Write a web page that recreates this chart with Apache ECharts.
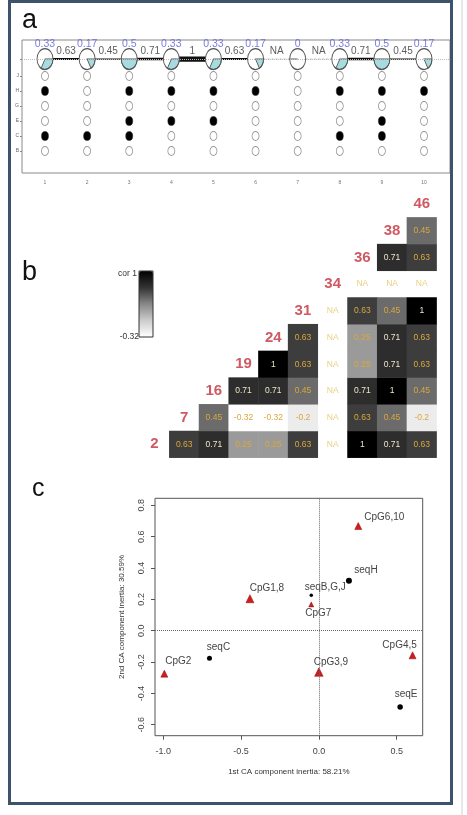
<!DOCTYPE html>
<html>
<head>
<meta charset="utf-8">
<script src="https://cdn.jsdelivr.net/npm/echarts@6/dist/echarts.min.js"></script>
<style>
  html, body { margin: 0; padding: 0; background: #fff; }
  #chart { width: 467px; height: 815px; }
</style>
</head>
<body>
<div id="chart"></div>
<script>
// ---- panel a: methylation of 10 CpG sites in 6 sequences ----
const cpgSites = [1, 2, 3, 4, 5, 6, 7, 8, 9, 10];
const seqRows = ['B', 'C', 'E', 'G', 'H', 'J'];
const seqB = [0, 0, 0, 0, 0, 0, 0, 0, 0, 0];
const seqC = [1, 1, 1, 0, 0, 0, 0, 1, 1, 0];
const seqE = [0, 0, 1, 1, 1, 0, 0, 0, 1, 0];
const seqG = [0, 0, 0, 0, 0, 0, 0, 0, 0, 0];
const seqH = [1, 0, 1, 1, 1, 1, 0, 1, 1, 1];
const seqJ = [0, 0, 0, 0, 0, 0, 0, 0, 0, 0];
const methFraction = [0.33, 0.17, 0.5, 0.33, 0.33, 0.17, 0, 0.33, 0.5, 0.17];
const neighbourCor = [0.63, 0.45, 0.71, 1, 0.63, null, null, 0.71, 0.45];

// ---- panel b: correlation between CpG positions (upper triangle, null = NA) ----
const cpgPos = ['2', '7', '16', '19', '24', '31', '34', '36', '38', '46'];
const cor2 = [0.63, 0.71, 0.25, 0.25, 0.63, null, 1, 0.71, 0.63];
const cor7 = [0.45, -0.32, -0.32, -0.2, null, 0.63, 0.45, -0.2];
const cor16 = [0.71, 0.71, 0.45, null, 0.71, 1, 0.45];
const cor19 = [1, 0.63, null, 0.25, 0.71, 0.63];
const cor24 = [0.63, null, 0.25, 0.71, 0.63];
const cor31 = [null, 0.63, 0.45, 1];
const cor34 = [null, null, null];
const cor36 = [0.71, 0.63];
const cor38 = [0.45];
const corRows = [cor2, cor7, cor16, cor19, cor24, cor31, cor34, cor36, cor38, []];

// ---- panel c: correspondence analysis ----
const cpgNames = ['CpG6,10', 'CpG1,8', 'CpG7', 'CpG2', 'CpG3,9', 'CpG4,5'];
const cpgDim1 = [0.253, -0.443, -0.049, -0.993, 0.0, 0.602];
const cpgDim2 = [0.668, 0.204, 0.168, -0.274, -0.264, -0.157];
const seqNames = ['seqH', 'seqB,G,J', 'seqC', 'seqE'];
const seqDim1 = [0.193, -0.049, -0.703, 0.522];
const seqDim2 = [0.319, 0.226, -0.176, -0.487];
const xTicks = [-1.0, -0.5, 0.0, 0.5];
const yTicks = [-0.6, -0.4, -0.2, 0.0, 0.2, 0.4, 0.6, 0.8];

// styling / placement (not data)
const cpgSymSize = [7, 8, 5, 7, 8.5, 7];
const seqSymSize = [6, 3.5, 5, 5.5];
const cpgLabelOff = [[26, -9], [17, -10], [7, 9], [14, -12], [12, -10], [-13, -10]];
const seqLabelOff = [[17, -10], [14, -8], [9, -11], [6, -13]];
const pieRow = 7.13;
const narrow = '"Liberation Sans Narrow", "Liberation Sans", Arial, sans-serif';
const sans = '"Liberation Sans", Arial, sans-serif';

let mychart = echarts.init(document.getElementById('chart'));

// methylation circles
const seqArrays = [seqB, seqC, seqE, seqG, seqH, seqJ];
let filledPts = [], openPts = [];
seqArrays.forEach((arr, r) => {
    arr.forEach((m, i) => {
        (m ? filledPts : openPts).push([cpgSites[i], r + 1]);
    });
});

// heatmap cells
let heatData = [], naCells = [], diagCells = [];
corRows.forEach((row, i) => {
    diagCells.push({ value: [i, i], name: cpgPos[i] });
    row.forEach((v, k) => {
        const j = i + 1 + k;
        if (v === null) {
            naCells.push([j, i]);
        } else {
            heatData.push({
                value: [j, i, v],
                label: { color: v >= 0.7 ? '#efe4c8' : '#d9a83c' }
            });
        }
    });
});

let option = {
    animation: false,
    backgroundColor: '#fff',
    grid: [
        { left: 22, top: 40, width: 428, height: 133, show: true, borderColor: '#8a8a8a', borderWidth: 1, backgroundColor: 'transparent' },
        { left: 139.6, top: 190.7, width: 297, height: 267 },
        { left: 155, top: 498.3, width: 267.7, height: 237.4, show: true, borderColor: '#555', borderWidth: 1, backgroundColor: 'transparent' }
    ],
    xAxis: [
        {
            gridIndex: 0, type: 'value', min: 0.454, max: 10.617,
            splitLine: { show: false }, axisLine: { show: false, onZero: false }, axisTick: { show: false },
            axisLabel: { customValues: cpgSites, fontSize: 5, color: '#777', margin: 7, fontFamily: sans }
        },
        {
            gridIndex: 1, type: 'category', data: cpgPos, show: false
        },
        {
            gridIndex: 2, type: 'value', min: -1.053, max: 0.667,
            splitLine: { show: false },
            axisLine: { show: false, onZero: false },
            axisTick: { customValues: xTicks, inside: false, length: 4, lineStyle: { color: '#555' } },
            axisLabel: { customValues: xTicks, formatter: v => v.toFixed(1), fontSize: 9, color: '#444', margin: 11, fontFamily: sans },
            name: '1st CA component inertia: 58.21%', nameLocation: 'middle', nameGap: 32,
            nameTextStyle: { fontSize: 8, color: '#333', fontFamily: sans }
        }
    ],
    yAxis: [
        {
            gridIndex: 0, type: 'value', min: -0.467, max: 8.4,
            splitLine: { show: false }, axisLine: { show: false, onZero: false },
            axisTick: { customValues: [1, 2, 3, 4, 5, 6, pieRow], inside: false, length: 2, lineStyle: { color: '#888' } },
            axisLabel: {
                customValues: [1, 2, 3, 4, 5, 6], formatter: v => seqRows[v - 1],
                fontSize: 5, color: '#666', margin: 3, fontFamily: sans
            }
        },
        {
            gridIndex: 1, type: 'category', data: cpgPos, show: false
        },
        {
            gridIndex: 2, type: 'value', min: -0.67, max: 0.845,
            splitLine: { show: false },
            axisLine: { show: false, onZero: false },
            axisTick: { customValues: yTicks, inside: false, length: 4, lineStyle: { color: '#555' } },
            axisLabel: { customValues: yTicks, formatter: v => v.toFixed(1), rotate: 90, fontSize: 9, color: '#444', margin: 9, fontFamily: sans },
            name: '2nd CA component inertia: 30.59%', nameLocation: 'middle', nameGap: 29,
            nameTextStyle: { fontSize: 8, color: '#333', fontFamily: sans }
        }
    ],
    visualMap: {
        type: 'continuous', min: -0.32, max: 1, seriesIndex: 6,
        calculable: false, show: true, padding: 0,
        left: 139, top: 271, itemWidth: 14, itemHeight: 66,
        inRange: { color: ['#ffffff', '#cccccc', '#878787', '#333333', '#000000'] },
        textStyle: { color: 'transparent' }, text: ['', '']
    },
    series: [
        // 0: connecting lines between pies (thickness ~ correlation)
        {
            type: 'custom', xAxisIndex: 0, yAxisIndex: 0, z: 1, silent: true,
            data: neighbourCor.map((c, i) => [cpgSites[i], cpgSites[i + 1], pieRow, c === null ? -9 : c]),
            encode: { x: [0, 1], y: 2 },
            renderItem(params, api) {
                const p1 = api.coord([api.value(0), api.value(2)]);
                const p2 = api.coord([api.value(1), api.value(2)]);
                const c = api.value(3);
                const na = c < -1;
                return {
                    type: 'line',
                    shape: { x1: p1[0], y1: p1[1], x2: p2[0], y2: p2[1] },
                    style: {
                        stroke: na ? '#aaa' : '#111',
                        lineWidth: na ? 1 : Math.max(1.2, 5.2 * c * c),
                        lineDash: na ? [2, 2] : null
                    }
                };
            }
        },
        // 1: pies of methylation fraction
        {
            type: 'custom', xAxisIndex: 0, yAxisIndex: 0, z: 3, silent: true,
            data: cpgSites.map((s, i) => [s, pieRow, methFraction[i]]),
            renderItem(params, api) {
                const p = api.coord([api.value(0), api.value(1)]);
                const f = api.value(2);
                const rx = 8, ry = 10.5;
                const kids = [{ type: 'circle', shape: { cx: 0, cy: 0, r: rx }, style: { fill: '#fff', stroke: null } }];
                if (f > 0) {
                    kids.push({
                        type: 'sector',
                        shape: { cx: 0, cy: 0, r0: 0, r: rx, startAngle: 0, endAngle: f * Math.PI * 2, clockwise: true },
                        style: { fill: '#a6dbe0', stroke: '#555', lineWidth: 0.8 }
                    });
                } else {
                    kids.push({ type: 'line', shape: { x1: -rx, y1: 0, x2: 0, y2: 0 }, style: { stroke: '#555', lineWidth: 0.8 } });
                }
                kids.push({ type: 'circle', shape: { cx: 0, cy: 0, r: rx }, style: { fill: 'none', stroke: '#555', lineWidth: 0.9 } });
                return { type: 'group', x: p[0], y: p[1], scaleY: ry / rx, children: kids };
            }
        },
        // 2: unmethylated
        {
            type: 'scatter', xAxisIndex: 0, yAxisIndex: 0, z: 2, silent: true,
            symbol: 'circle', symbolSize: [7, 9], data: openPts,
            itemStyle: { color: '#fff', borderColor: '#999', borderWidth: 0.9, opacity: 1 },
            markLine: {
                silent: true, symbol: 'none', label: { show: false },
                lineStyle: { color: '#bbb', type: 'dotted', width: 1 },
                data: [{ yAxis: pieRow }]
            }
        },
        // 3: methylated
        {
            type: 'scatter', xAxisIndex: 0, yAxisIndex: 0, z: 2, silent: true,
            symbol: 'circle', symbolSize: [7, 9], data: filledPts,
            itemStyle: { color: '#000', borderColor: '#222', borderWidth: 0.5, opacity: 1 }
        },
        // 4: fraction labels above pies
        {
            type: 'scatter', xAxisIndex: 0, yAxisIndex: 0, z: 4, silent: true, symbolSize: 0,
            data: cpgSites.map((s, i) => ({ value: [s, pieRow], name: String(methFraction[i]) })),
            label: { show: true, position: 'inside', offset: [0, -15], formatter: '{b}', color: '#5b5bd3', fontSize: 10.5, fontFamily: narrow }
        },
        // 5: correlation labels between pies
        {
            type: 'scatter', xAxisIndex: 0, yAxisIndex: 0, z: 4, silent: true, symbolSize: 0,
            data: neighbourCor.map((c, i) => ({ value: [cpgSites[i] + 0.5, pieRow], name: c === null ? 'NA' : String(c) })),
            label: { show: true, position: 'inside', offset: [0, -8], formatter: '{b}', color: '#333', fontSize: 10, fontFamily: narrow }
        },
        // 6: correlation heatmap
        {
            type: 'heatmap', xAxisIndex: 1, yAxisIndex: 1, silent: true,
            data: heatData,
            label: { show: true, formatter: p => String(p.data.value[2]), fontSize: 8.5, fontFamily: sans },
            itemStyle: { borderWidth: 0 }
        },
        // 7: NA cells
        {
            type: 'scatter', xAxisIndex: 1, yAxisIndex: 1, silent: true, symbolSize: 0,
            data: naCells,
            label: { show: true, position: 'inside', formatter: 'NA', color: '#e2c35e', fontSize: 8.5, fontFamily: sans }
        },
        // 8: position labels on diagonal
        {
            type: 'scatter', xAxisIndex: 1, yAxisIndex: 1, silent: true, symbolSize: 0,
            data: diagCells,
            label: { show: true, position: 'inside', formatter: '{b}', color: '#c3303b', fontSize: 15, fontWeight: 'bold', fontFamily: sans }
        },
        // 9: CpG sites (triangles)
        {
            type: 'scatter', xAxisIndex: 2, yAxisIndex: 2, z: 3, silent: true,
            symbol: 'triangle',
            data: cpgNames.map((n, i) => ({
                name: n, value: [cpgDim1[i], cpgDim2[i]], symbolSize: cpgSymSize[i],
                label: { offset: cpgLabelOff[i] }
            })),
            itemStyle: { color: '#d01c1c', borderColor: '#8a0a0a', borderWidth: 0.5, opacity: 1 },
            label: { show: true, position: 'inside', formatter: '{b}', color: '#444', fontSize: 10, fontFamily: sans },
            markLine: {
                silent: true, symbol: 'none', label: { show: false },
                lineStyle: { color: '#666', type: 'dotted', width: 1 },
                data: [{ xAxis: 0 }, { yAxis: 0 }]
            }
        },
        // 10: sequences (dots)
        {
            type: 'scatter', xAxisIndex: 2, yAxisIndex: 2, z: 3, silent: true,
            symbol: 'circle',
            data: seqNames.map((n, i) => ({
                name: n, value: [seqDim1[i], seqDim2[i]], symbolSize: seqSymSize[i],
                label: { offset: seqLabelOff[i] }
            })),
            itemStyle: { color: '#000', opacity: 1 },
            label: { show: true, position: 'inside', formatter: '{b}', color: '#444', fontSize: 10, fontFamily: sans }
        }
    ],
    graphic: [
        { type: 'rect', z: 100, shape: { x: 9.5, y: 1.5, width: 442, height: 802 }, style: { fill: 'none', stroke: '#3d536c', lineWidth: 3 } },
        { type: 'line', z: 100, shape: { x1: 462, y1: 0, x2: 462, y2: 815 }, style: { stroke: '#d0d0d0', lineWidth: 1 } },
        { type: 'text', x: 22, y: 7, style: { text: 'a', fontSize: 27, fill: '#111', fontFamily: sans } },
        { type: 'text', x: 22, y: 259, style: { text: 'b', fontSize: 27, fill: '#111', fontFamily: sans } },
        { type: 'text', x: 32, y: 477, style: { text: 'c', fontSize: 25, fill: '#111', fontFamily: sans } },
        { type: 'rect', z: 100, shape: { x: 139, y: 271, width: 14, height: 66 }, style: { fill: 'none', stroke: '#333', lineWidth: 1 } },
        { type: 'text', x: 137, y: 274, style: { text: 'cor 1', fontSize: 8.5, fill: '#333', align: 'right', verticalAlign: 'middle', fontFamily: sans } },
        { type: 'text', x: 139, y: 337, style: { text: '-0.32', fontSize: 8.5, fill: '#333', align: 'right', verticalAlign: 'middle', fontFamily: sans } }
    ]
};

mychart.setOption(option);
</script>
</body>
</html>
